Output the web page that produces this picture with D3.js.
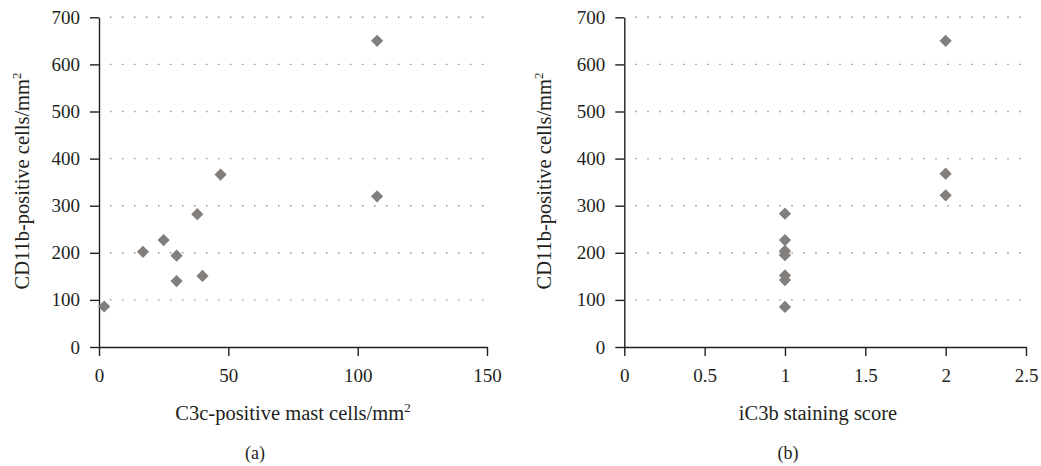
<!DOCTYPE html>
<html>
<head>
<meta charset="utf-8">
<script src="https://cdn.jsdelivr.net/npm/d3@7"></script>
<style>
  body { margin: 0; background: #fff; }
  svg { display: block; }
  text { font-family: "Liberation Serif", "Times New Roman", serif; fill: #231f20; }
  .axis path, .axis line { stroke: #231f20; stroke-width: 1.4; }
  .axis text { font-size: 19px; font-family: "Liberation Serif", serif; fill: #231f20; }
</style>
</head>
<body>
<svg width="1041" height="466"></svg>
<script>
// valores
const c3cMast = [107.5, 47, 38, 107.5, 25, 17, 30, 30, 40, 2];
const cd11bA = [650, 366, 282, 320, 227, 202, 194, 140, 151, 86];

const ic3bScore = [2, 2, 2, 1, 1, 1, 1, 1, 1, 1];
const cd11bB = [650, 368, 322, 283, 227, 204, 195, 152, 142, 85];

const yTicks = [0, 100, 200, 300, 400, 500, 600, 700];
const xTicksA = [0, 50, 100, 150];
const xTicksB = [0, 0.5, 1, 1.5, 2, 2.5];

const svg = d3.select("svg");
const MARKER_COLOR = "#817e7c";
const TOP = 17.3, BOTTOM = 347;

const panels = [
  {
    xs: c3cMast, ys: cd11bA, xDomain: [0, 150], xTicks: xTicksA,
    left: 99, right: 487, xTitle: "C3c-positive mast cells/mm", xSup: true,
    xTitleX: 293, yTitleX: 29, label: "(a)", labelX: 255
  },
  {
    xs: ic3bScore, ys: cd11bB, xDomain: [0, 2.5], xTicks: xTicksB,
    left: 624.3, right: 1026, xTitle: "iC3b staining score", xSup: false,
    xTitleX: 818, yTitleX: 551, label: "(b)", labelX: 788
  }
];

const diamond = d3.symbol().type(d3.symbolDiamond2).size(95);

panels.forEach(p => {
  const x = d3.scaleLinear().domain(p.xDomain).range([p.left, p.right]);
  const y = d3.scaleLinear().domain([0, 700]).range([BOTTOM, TOP]);

  // linhas de grade pontilhadas
  svg.append("g").selectAll("line")
    .data(yTicks.filter(d => d > 0))
    .enter()
    .append("line")
    .attr("x1", p.left + 11)
    .attr("x2", p.right)
    .attr("y1", d => y(d))
    .attr("y2", d => y(d))
    .attr("stroke", "#8a8a8a")
    .attr("stroke-width", 1.4)
    .attr("stroke-dasharray", "1.4,10.6");

  // eixos
  svg.append("g")
    .attr("class", "axis")
    .attr("transform", `translate(0,${BOTTOM})`)
    .call(d3.axisBottom(x).tickValues(p.xTicks).tickSize(9).tickSizeOuter(0).tickPadding(13)
      .tickFormat(d3.format("~g")));

  svg.append("g")
    .attr("class", "axis")
    .attr("transform", `translate(${p.left},0)`)
    .call(d3.axisLeft(y).tickValues(yTicks).tickSize(9).tickSizeOuter(0).tickPadding(10));

  // pontos
  svg.append("g").selectAll("path")
    .data(p.xs.map((v, i) => ({ x: v, y: p.ys[i] })))
    .enter()
    .append("path")
    .attr("d", diamond)
    .attr("transform", d => `translate(${x(d.x)},${y(d.y)})`)
    .attr("fill", MARKER_COLOR);

  // título do eixo x
  const xt = svg.append("text")
    .attr("x", p.xTitleX)
    .attr("y", 420)
    .attr("text-anchor", "middle")
    .attr("font-size", 20.5)
    .text(p.xTitle);
  if (p.xSup) {
    xt.append("tspan").attr("dy", -8).attr("font-size", 13).text("2");
  }

  // título do eixo y
  const yt = svg.append("text")
    .attr("transform", `translate(${p.yTitleX},181) rotate(-90)`)
    .attr("text-anchor", "middle")
    .attr("font-size", 20.5)
    .text("CD11b-positive cells/mm");
  yt.append("tspan").attr("dy", -8).attr("font-size", 13).text("2");

  // rótulo do painel
  svg.append("text")
    .attr("x", p.labelX)
    .attr("y", 459)
    .attr("text-anchor", "middle")
    .attr("font-size", 18)
    .text(p.label);
});
</script>
</body>
</html>
